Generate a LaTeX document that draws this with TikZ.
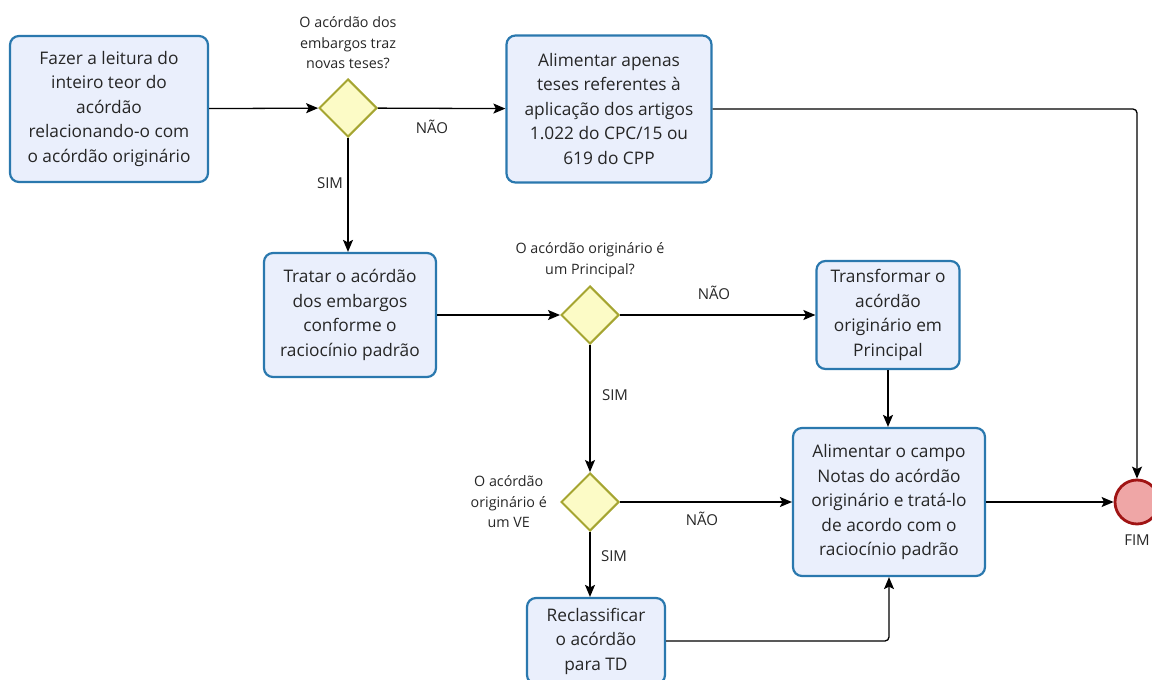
\documentclass[tikz,border=0pt]{standalone}
\usepackage{fontspec}
\setmainfont{Open Sans}
\usetikzlibrary{positioning,shapes.geometric,arrows.meta}
\definecolor{boxfill}{HTML}{EAEFFC}
\definecolor{boxline}{HTML}{2A78AE}
\definecolor{decfill}{HTML}{FCFBC6}
\definecolor{decline}{HTML}{A5A531}
\definecolor{endfill}{HTML}{EFA6A6}
\definecolor{endline}{HTML}{A01414}
\definecolor{txt}{HTML}{262626}

\begin{document}
\begin{tikzpicture}[x=1pt, y=-1pt, node distance=6pt,
    task/.style={draw=boxline, fill=boxfill, line width=2.2pt, rounded corners=9pt, align=center, text=txt, font=\fontsize{17.3}{24.5}\selectfont, inner sep=0pt},
    gate/.style={draw=decline, fill=decfill, line width=2pt, diamond, shape aspect=1, minimum width=58pt, minimum height=58pt, inner sep=0pt},
    ask/.style={align=center, text=txt, font=\fontsize{14.3}{20.5}\selectfont, inner sep=1pt},
    lbl/.style={text=txt, font=\fontsize{15}{17}\selectfont, inner sep=1pt},
    flow/.style={line width=1.3pt, -{Stealth[length=12pt,width=10pt,inset=2.5pt]}, rounded corners=4pt}]
    \useasboundingbox (0,0) rectangle (1152,680);

    \node[task, minimum width=198pt, minimum height=146pt] (ler) at (109,109) {Fazer a leitura do\\inteiro teor do\\acórdão\\relacionando-o com\\o acórdão originário};
    \node[gate] (teses) at (348,108) {};
    \node[ask, above=8pt of teses] (qteses) {O acórdão dos\\embargos traz\\novas teses?};
    \node[task, minimum width=205pt, minimum height=147pt] (alim) at (609,109) {Alimentar apenas\\teses referentes à\\aplicação dos artigos\\1.022 do CPC/15 ou\\619 do CPP};
    \node[task, minimum width=172pt, minimum height=124pt] (tratar) at (350,315) {Tratar o acórdão\\dos embargos\\conforme o\\raciocínio padrão};
    \node[gate] (princ) at (590,315) {};
    \node[ask, above=6pt of princ] (qprinc) {O acórdão originário é\\um Principal?};
    \node[task, minimum width=143pt, minimum height=108pt] (transf) at (888,315) {Transformar o\\acórdão\\originário em\\Principal};
    \node[gate] (ve) at (590,502) {};
    \node[ask, left=12pt of ve] (qve) {O acórdão\\originário é\\um VE};
    \node[task, minimum width=192pt, minimum height=148pt] (notas) at (889,502) {Alimentar o campo\\Notas do acórdão\\originário e tratá-lo\\de acordo com o\\raciocínio padrão};
    \node[task, minimum width=138pt, minimum height=86pt] (recl) at (596,641) {Reclassificar\\o acórdão\\para TD};
    \node[circle, draw=endline, fill=endfill, line width=2.8pt, minimum size=44pt, inner sep=0pt] (fim) at (1137,502) {};
    \node[lbl, below=8pt of fim] (tfim) {FIM};

    \node[lbl] (nao1) at (432,127) {NÃO};
    \node[lbl] (sim1) at (330,183) {SIM};
    \node[lbl] (nao2) at (714,293) {NÃO};
    \node[lbl] (sim2) at (615,395) {SIM};
    \node[lbl] (nao3) at (702,519) {NÃO};
    \node[lbl] (sim3) at (614,556) {SIM};

    \draw[flow] (ler) -- (teses);
    \draw[flow] (teses) -- (alim);
    \draw[flow] (teses.south) -- (teses.south |- tratar.north);
    \draw[flow] (alim.east) -| (fim.north);
    \draw[flow] (tratar) -- (princ);
    \draw[flow] (princ) -- (transf);
    \draw[flow] (princ) -- (ve);
    \draw[flow] (transf) -- (transf |- notas.north);
    \draw[flow] (ve) -- (notas);
    \draw[flow] (ve.south) -- (ve.south |- recl.north);
    \draw[flow] (recl.east) -| (notas.south);
    \draw[flow] (notas) -- (fim);
  \end{tikzpicture}
\end{document}
